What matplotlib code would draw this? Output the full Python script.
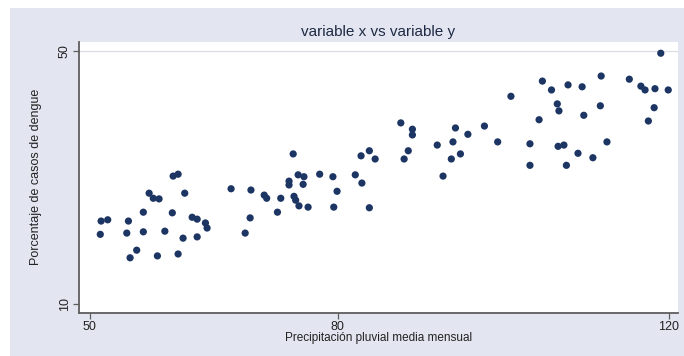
import matplotlib
matplotlib.use('Agg')
import matplotlib.pyplot as plt
from matplotlib.patches import Rectangle

# values
precipitacion = [
    51.3, 51.4, 52.2, 54.7, 54.5, 54.9, 55.7, 56.5, 56.5, 57.2,
    57.7, 58.4, 58.2, 59.1, 60.0, 60.1, 60.7, 61.5, 60.7, 61.3,
    62.4, 63.0, 64.0, 64.2, 63.0, 67.1, 68.8, 69.4, 69.5, 71.1,
    71.4, 72.7, 73.1, 74.1, 74.1, 74.7, 74.9, 75.3, 75.2, 75.9,
    75.8, 76.4, 77.8, 79.4, 79.5, 79.9, 74.6, 82.1, 82.9, 82.8,
    83.8, 84.5, 83.8, 92.7, 87.6, 89.0, 89.0, 88.5, 88.0, 92.0,
    93.7, 94.2, 93.9, 94.8, 95.7, 97.7, 99.3, 100.9, 103.2, 103.2,
    104.3, 104.7, 105.8, 107.8, 109.5, 106.5, 106.7, 106.6, 107.3, 107.6,
    109.7, 109.0, 110.8, 111.8, 111.7, 112.5, 115.2, 116.6, 117.1, 118.3,
    119.9, 118.2, 117.5, 119.0,
]
dengue = [
    21.0, 23.1, 23.3, 23.1, 21.2, 17.3, 18.5, 24.5, 21.4, 27.5,
    26.7, 26.6, 17.6, 21.5, 24.4, 30.2, 30.5, 27.5, 17.9, 20.4,
    23.7, 23.4, 22.8, 22.0, 20.6, 28.2, 21.2, 23.6, 28.0, 27.2,
    26.7, 24.5, 26.7, 29.4, 28.8, 27.0, 26.4, 25.5, 30.4, 30.1,
    28.9, 25.3, 30.5, 30.1, 25.3, 27.8, 33.7, 30.4, 29.1, 33.4,
    34.2, 32.9, 25.2, 30.2, 38.6, 37.6, 36.7, 34.2, 32.9, 35.1,
    32.9, 37.8, 35.6, 33.7, 36.8, 38.1, 35.6, 42.8, 35.3, 31.9,
    39.1, 45.2, 43.8, 44.6, 44.3, 41.6, 40.5, 34.9, 35.1, 31.9,
    39.8, 33.8, 33.1, 46.0, 41.3, 35.6, 45.5, 44.4, 43.8, 44.0,
    43.8, 41.0, 38.9, 49.6,
]
x_ticks = [50, 80, 120]
y_ticks = [10, 50]

title = "variable x vs variable y"
x_label = "Precipitación pluvial media mensual"
y_label = "Porcentaje de casos de dengue"

plt.rcParams['font.family'] = ['Liberation Sans', 'DejaVu Sans']

W, H = 684, 356
fig = plt.figure(figsize=(W / 100, H / 100), dpi=100)
fig.patch.set_facecolor('white')
# Stata-like bluish graph region
fig.add_artist(Rectangle((10 / W, 0), 1 - 10 / W, 1 - 8 / H,
                         transform=fig.transFigure, facecolor='#e3e6f0',
                         edgecolor='none', zorder=-10))

ax = fig.add_axes([79 / W, 1 - 312.7 / H, (678 - 79) / W, (312.7 - 41.7) / H])
ax.set_facecolor('white')

ax.scatter(precipitacion, dengue, s=27, color='#1c3563', edgecolors='none', zorder=3)

ax.set_xlim(48.73, 121.08)
ax.set_ylim(8.63, 51.42)
ax.set_xticks(x_ticks)
ax.set_yticks(y_ticks)
# only the top gridline shows in the reference
ax.axhline(y_ticks[-1], color='#dadde3', linewidth=0.9, zorder=0)

for side in ('top', 'right'):
    ax.spines[side].set_visible(False)
for side in ('left', 'bottom'):
    ax.spines[side].set_color('#5e5e5e')
    ax.spines[side].set_linewidth(1.3)

ax.tick_params(axis='both', direction='out', length=4, width=0.9,
               color='#5e5e5e', labelsize=9, labelcolor='#222222', pad=2)
plt.setp(ax.get_yticklabels(), rotation=90, va='center')

ax.set_title(title, fontsize=11, color='#1e2a44', pad=4)
ax.set_xlabel(x_label, fontsize=8.5, color='#222222', labelpad=-1)
ax.set_ylabel(y_label, fontsize=9, color='#222222', labelpad=12)

fig.savefig('out.png', dpi=100)
